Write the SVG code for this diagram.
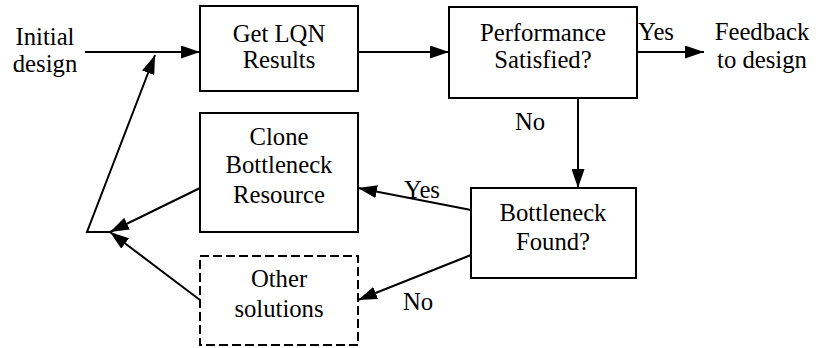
<svg xmlns="http://www.w3.org/2000/svg" width="816" height="348" viewBox="0 0 816 348">
<defs>
<marker id="ah" markerUnits="userSpaceOnUse" markerWidth="19" markerHeight="13" refX="19" refY="6.5" orient="auto">
<path d="M0,0 L19,6.5 L0,13 z" fill="#000"/>
</marker>
<style>
.box{fill:#fff;stroke:#000;stroke-width:2}
.dash{stroke-dasharray:9,4}
text{font-family:'Liberation Serif','Times New Roman',serif;font-size:24.7px;fill:#000;text-anchor:middle}
.c{fill:none;stroke:#000;stroke-width:2}
</style>
</defs>
<rect width="816" height="348" fill="#fff"/>
<g id="connectors">
<line class="c" x1="85" y1="52" x2="200" y2="52" marker-end="url(#ah)"/>
<line class="c" x1="358" y1="52" x2="449" y2="52" marker-end="url(#ah)"/>
<line class="c" x1="637" y1="52" x2="704" y2="52" marker-end="url(#ah)"/>
<line class="c" x1="578" y1="98" x2="578" y2="188" marker-end="url(#ah)"/>
<line class="c" x1="471" y1="210" x2="358" y2="188" marker-end="url(#ah)"/>
<line class="c" x1="471" y1="255" x2="358" y2="300" marker-end="url(#ah)"/>
<line class="c" x1="200" y1="188" x2="110" y2="232" marker-end="url(#ah)"/>
<line class="c" x1="200" y1="300" x2="110" y2="232" marker-end="url(#ah)"/>
<polyline class="c" points="110,232 87,232 155,55" marker-end="url(#ah)"/>
<text x="656" y="40">Yes</text>
<text x="530" y="130">No</text>
<text x="422" y="198">Yes</text>
<text x="418" y="310">No</text>
</g>
<g id="initial">
<text x="45" y="45">Initial</text>
<text x="45" y="72">design</text>
</g>
<g id="getlqn">
<rect class="box" x="200" y="6" width="158" height="85"/>
<text x="279" y="42">Get LQN</text>
<text x="279" y="68">Results</text>
</g>
<g id="performance">
<rect class="box" x="449" y="7" width="188" height="91"/>
<text x="543" y="41">Performance</text>
<text x="543" y="68">Satisfied?</text>
</g>
<g id="feedback">
<text x="762" y="40">Feedback</text>
<text x="762" y="68">to design</text>
</g>
<g id="clone">
<rect class="box" x="200" y="113" width="158" height="119"/>
<text x="279" y="145">Clone</text>
<text x="279" y="173">Bottleneck</text>
<text x="279" y="203">Resource</text>
</g>
<g id="bottleneck">
<rect class="box" x="471" y="188" width="165" height="90"/>
<text x="553" y="221">Bottleneck</text>
<text x="553" y="250">Found?</text>
</g>
<g id="other">
<rect class="box dash" x="200" y="256" width="158" height="89"/>
<text x="279" y="287">Other</text>
<text x="279" y="317">solutions</text>
</g>
</svg>
